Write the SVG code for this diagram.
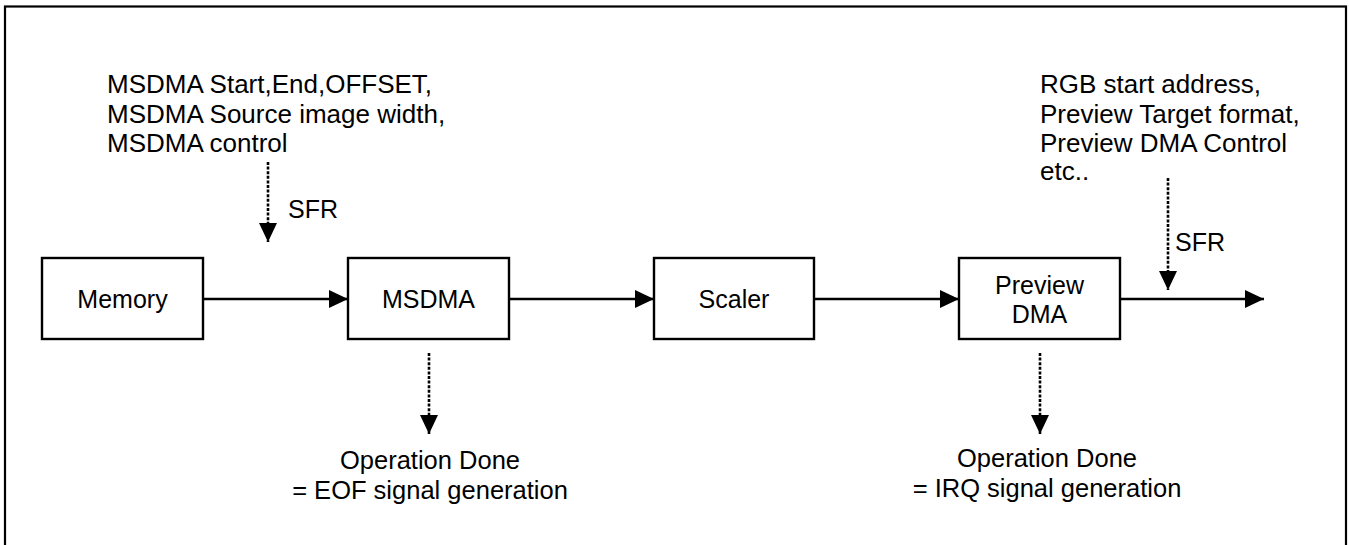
<svg xmlns="http://www.w3.org/2000/svg" width="1349" height="545" viewBox="0 0 1349 545">
<style>
text{font-family:"Liberation Sans",Arial,sans-serif;font-size:25px;fill:#000}
.top{font-size:26px}
.bot{font-size:25.5px}
.box{fill:#fff;stroke:#000;stroke-width:2.4}
.solid{stroke:#000;stroke-width:2.4;fill:none}
.dash{stroke:#000;stroke-width:2.6;fill:none;stroke-dasharray:3 1.6}
.c{text-anchor:middle}
</style>
<defs>
<marker id="ah" markerWidth="19" markerHeight="18" refX="19" refY="9" orient="auto" markerUnits="userSpaceOnUse">
<path d="M0,0 L19,9 L0,18 Z" fill="#000"/>
</marker>
</defs>
<rect x="5" y="6.5" width="1341" height="560" fill="none" stroke="#000" stroke-width="2.2"/>
<g id="connectors">
<line class="solid" x1="203" y1="299" x2="348" y2="299" marker-end="url(#ah)"/>
<line class="solid" x1="509" y1="299" x2="654" y2="299" marker-end="url(#ah)"/>
<line class="solid" x1="814" y1="299" x2="959" y2="299" marker-end="url(#ah)"/>
<line class="solid" x1="1120" y1="299" x2="1264" y2="299" marker-end="url(#ah)"/>
<line class="dash" x1="268" y1="162" x2="268" y2="242" marker-end="url(#ah)"/>
<line class="dash" x1="1168" y1="178" x2="1168" y2="290" marker-end="url(#ah)"/>
<line class="dash" x1="429" y1="353" x2="429" y2="434" marker-end="url(#ah)"/>
<line class="dash" x1="1040" y1="353" x2="1040" y2="434" marker-end="url(#ah)"/>
</g>
<g id="memory">
<rect class="box" x="42" y="258" width="161" height="81"/>
<text class="c" x="122.5" y="308">Memory</text>
</g>
<g id="msdma">
<rect class="box" x="348" y="258" width="161" height="81"/>
<text class="c" x="428.5" y="308">MSDMA</text>
</g>
<g id="scaler">
<rect class="box" x="654" y="258" width="160" height="81"/>
<text class="c" x="734" y="308">Scaler</text>
</g>
<g id="preview-dma">
<rect class="box" x="959" y="258" width="161" height="81"/>
<text class="c" x="1039.5" y="294">Preview</text>
<text class="c" x="1039.5" y="323">DMA</text>
</g>
<g id="labels">
<text class="top" x="107" y="93">MSDMA Start,End,OFFSET,</text>
<text class="top" x="107" y="122.5">MSDMA Source image width,</text>
<text class="top" x="107" y="152">MSDMA control</text>
<text x="288" y="218">SFR</text>
<text class="top" x="1040" y="93">RGB start address,</text>
<text class="top" x="1040" y="122.5">Preview Target format,</text>
<text class="top" x="1040" y="152">Preview DMA Control</text>
<text class="top" x="1040" y="180">etc..</text>
<text x="1175" y="251">SFR</text>
<text class="c bot" x="430" y="469">Operation Done</text>
<text class="c bot" x="430" y="499">= EOF signal generation</text>
<text class="c bot" x="1047" y="467">Operation Done</text>
<text class="c bot" x="1047" y="497">= IRQ signal generation</text>
</g>
</svg>
